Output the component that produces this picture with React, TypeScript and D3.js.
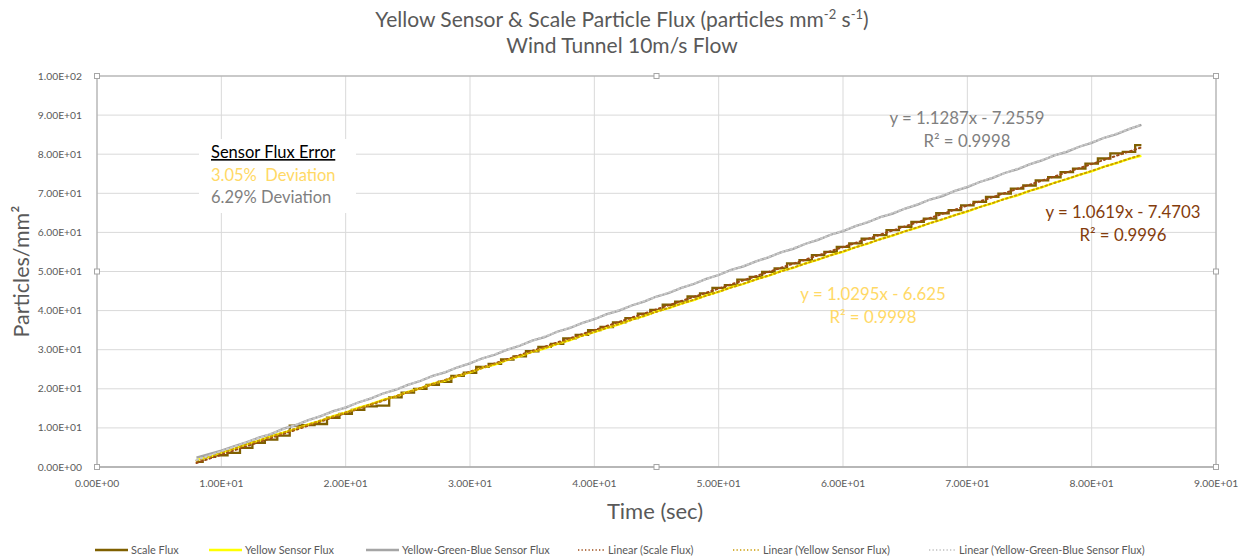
import React from "react"
import * as d3 from "d3"

// chart text
const titleLine2 = "Wind Tunnel 10m/s Flow"
const xTitle = "Time (sec)"
const yTitle = "Particles/mm²"

const xTicks = [0, 10, 20, 30, 40, 50, 60, 70, 80, 90]
const yTicks = [0, 10, 20, 30, 40, 50, 60, 70, 80, 90, 100]

// sample times (sec)
const time = [
  8, 9, 10, 11, 12, 13, 14, 15, 16, 17, 18, 19, 20, 21, 22, 23, 24, 25, 26, 27, 28, 29, 30,
  31, 32, 33, 34, 35, 36, 37, 38, 39, 40, 41, 42, 43, 44, 45, 46, 47, 48, 49, 50, 51, 52,
  53, 54, 55, 56, 57, 58, 59, 60, 61, 62, 63, 64, 65, 66, 67, 68, 69, 70, 71, 72, 73, 74,
  75, 76, 77, 78, 79, 80, 81, 82, 83, 84,
]

// particles / mm^2
const scaleFlux = [
  1.3, 2.6, 3.0, 3.6, 4.9, 6.2, 7.0, 8.0, 10.6, 10.7, 11.0, 12.6, 13.6, 14.6, 15.5, 15.7,
  17.8, 19.0, 20.0, 21.0, 21.8, 23.3, 24.1, 25.6, 26.4, 27.5, 28.3, 29.6, 30.7, 31.5, 32.9,
  33.8, 35.0, 35.8, 37.0, 38.1, 39.2, 40.2, 41.5, 42.3, 43.6, 44.4, 45.8, 46.5, 47.9, 48.6,
  49.9, 50.8, 52.1, 52.9, 54.2, 55.0, 56.3, 57.2, 58.4, 59.3, 60.6, 61.4, 62.7, 63.5, 64.9,
  65.7, 66.9, 67.8, 69.1, 69.9, 71.2, 72.0, 73.3, 74.1, 75.4, 76.3, 77.6, 78.9, 80.2, 80.6,
  82.3,
]
const yellowFlux = [
  1.8, 2.5, 3.7, 4.6, 5.8, 6.7, 7.9, 8.8, 9.7, 10.9, 11.8, 13.0, 13.9, 15.1, 16.0, 17.2,
  18.0, 19.2, 20.1, 21.3, 22.1, 23.3, 24.2, 25.4, 26.2, 27.4, 28.3, 29.5, 30.3, 31.5, 32.4,
  33.6, 34.5, 35.6, 36.5, 37.7, 38.6, 39.8, 40.6, 41.8, 42.7, 43.9, 44.8, 46.0, 46.8, 48.0,
  48.9, 50.1, 50.9, 52.1, 53.0, 54.2, 55.0, 56.2, 57.1, 58.3, 59.2, 60.3, 61.2, 62.4, 63.3,
  64.4, 65.3, 66.5, 67.4, 68.6, 69.4, 70.6, 71.5, 72.7, 73.6, 74.7, 75.6, 76.8, 77.7, 78.8,
  79.6,
]
const ygbFlux = [
  2.4, 3.3, 4.2, 5.3, 6.3, 7.5, 8.4, 9.8, 10.7, 12.0, 13.0, 14.3, 15.2, 16.5, 17.5, 18.8,
  19.7, 21.0, 22.0, 23.3, 24.2, 25.5, 26.5, 27.8, 28.7, 30.0, 31.0, 32.3, 33.2, 34.6, 35.5,
  36.8, 37.8, 39.1, 40.0, 41.3, 42.3, 43.6, 44.5, 45.8, 46.8, 48.1, 49.1, 50.4, 51.3, 52.6,
  53.6, 54.9, 55.8, 57.1, 58.1, 59.4, 60.3, 61.6, 62.6, 63.9, 64.8, 66.1, 67.1, 68.4, 69.3,
  70.6, 71.6, 72.9, 73.9, 75.2, 76.1, 77.4, 78.4, 79.7, 80.6, 81.9, 82.9, 84.2, 85.1, 86.4,
  87.5,
]

// linear fits (from the equation labels)
const trendSlopes = [1.0619, 1.0295, 1.1287]
const trendIntercepts = [-7.4703, -6.625, -7.2559]
const trendR2 = ["0.9996", "0.9998", "0.9998"]

const font = "Lato, 'Open Sans', sans-serif"
const textGray = "#595959"
const lineColors = ["#7f6000", "#ffff00", "#a5a5a5"]
const trendColors = ["#9c4a16", "#c99a00", "#c8c8c8"]
const eqColors = ["#843c0c", "#ffd966", "#7f7f7f"]

const W = 1244
const H = 560
const m = { left: 97, right: 1216, top: 76, bottom: 467 }

const sciLabel = (v: number) => {
  const [mant, exp] = v.toExponential(2).split("e")
  const e = parseInt(exp, 10)
  return mant + "E" + (e < 0 ? "-" : "+") + String(Math.abs(e)).padStart(2, "0")
}

export default function App() {
  const x = d3.scaleLinear().domain([0, 90]).range([m.left, m.right])
  const y = d3.scaleLinear().domain([0, 100]).range([m.bottom, m.top])

  // scale readings are discrete steps, the sensors read out smoother
  const curves = [d3.curveStep, d3.curveLinear, d3.curveLinear]
  const series = [scaleFlux, yellowFlux, ygbFlux]
  const t0 = time[0]
  const t1 = time[time.length - 1]

  // equation label spots
  const eqPos = [
    { cx: 1123, cy: 218 },
    { cx: 873, cy: 300 },
    { cx: 967, cy: 124 },
  ]

  const midX = (m.left + m.right) / 2
  const midY = (m.top + m.bottom) / 2
  const handles = [
    [m.left, m.top], [midX, m.top], [m.right, m.top],
    [m.left, midY], [m.right, midY],
    [m.left, m.bottom], [midX, m.bottom], [m.right, m.bottom],
  ]

  const legendItems = [
    { label: "Scale Flux", x: 95, color: lineColors[0], dotted: false },
    { label: "Yellow Sensor Flux", x: 209, color: lineColors[1], dotted: false },
    { label: "Yellow-Green-Blue Sensor Flux", x: 366, color: lineColors[2], dotted: false },
    { label: "Linear (Scale Flux)", x: 578, color: trendColors[0], dotted: true },
    { label: "Linear (Yellow Sensor Flux)", x: 733, color: trendColors[1], dotted: true },
    { label: "Linear (Yellow-Green-Blue Sensor Flux)", x: 929, color: "#bfbfbf", dotted: true },
  ]

  return (
    <svg
      width={W}
      height={H}
      style={{ position: "absolute", left: 0, top: 0, background: "#fff" }}
      fontFamily={font}
    >
      <rect width={W} height={H} fill="#fff" />

      {/* title */}
      <text x={622} y={27} textAnchor="middle" fontSize={21} fill={textGray}>
        Yellow Sensor &amp; Scale Particle Flux (particles mm
        <tspan fontSize={13} dy={-8}>-2</tspan>
        <tspan dy={8}> s</tspan>
        <tspan fontSize={13} dy={-8}>-1</tspan>
        <tspan dy={8}>)</tspan>
      </text>
      <text x={622} y={53} textAnchor="middle" fontSize={21} fill={textGray}>
        {titleLine2}
      </text>

      {/* grid */}
      {yTicks.map(t => (
        <line key={"gy" + t} x1={m.left} x2={m.right} y1={y(t)} y2={y(t)} stroke="#d9d9d9" />
      ))}
      {xTicks.map(t => (
        <line key={"gx" + t} x1={x(t)} x2={x(t)} y1={m.top} y2={m.bottom} stroke="#d9d9d9" />
      ))}

      {/* plot area outline */}
      <rect
        x={m.left}
        y={m.top}
        width={m.right - m.left}
        height={m.bottom - m.top}
        fill="none"
        stroke="#a6a6a6"
      />
      <line x1={m.left} x2={m.right} y1={m.bottom} y2={m.bottom} stroke="#a6a6a6" strokeWidth={1.2} />

      {/* tick labels */}
      {yTicks.map(t => (
        <text key={"ty" + t} x={82} y={y(t) + 3.5} textAnchor="end" fontSize={10.3} fill={textGray}>
          {sciLabel(t)}
        </text>
      ))}
      {xTicks.map(t => (
        <text key={"tx" + t} x={x(t)} y={487} textAnchor="middle" fontSize={10.3} fill={textGray}>
          {sciLabel(t)}
        </text>
      ))}

      {/* axis titles */}
      <text
        transform={`translate(29,${midY}) rotate(-90)`}
        textAnchor="middle"
        fontSize={21.5}
        fill={textGray}
      >
        {yTitle}
      </text>
      <text x={655} y={519} textAnchor="middle" fontSize={22} fill={textGray}>
        {xTitle}
      </text>

      {/* text box */}
      <rect x={199} y={139} width={157} height={74} fill="#fff" />
      <text x={211} y={158} fontSize={16.5} fill="#000" textDecoration="underline">
        Sensor Flux Error
      </text>
      <text x={211} y={181} fontSize={16.5} fill="#ffd966" xmlSpace="preserve">
        3.05%  Deviation
      </text>
      <text x={211} y={203} fontSize={16.5} fill="#7f7f7f">
        6.29% Deviation
      </text>

      {/* series */}
      {series.map((s, i) => (
        <path
          key={"s" + i}
          d={
            d3
              .line<number>()
              .x((_, j) => x(time[j]))
              .y(d => y(d))
              .curve(curves[i])(s) || ""
          }
          fill="none"
          stroke={lineColors[i]}
          strokeWidth={2.3}
        />
      ))}

      {/* trendlines */}
      {trendSlopes.map((k, i) => (
        <path
          key={"tr" + i}
          d={
            d3
              .line<number>()
              .x(d => x(d))
              .y(d => y(k * d + trendIntercepts[i]))([t0, t1]) || ""
          }
          fill="none"
          stroke={trendColors[i]}
          strokeWidth={2}
          strokeDasharray="1.6 3"
          strokeLinecap="round"
        />
      ))}

      {/* equation labels */}
      {trendSlopes.map((k, i) => (
        <g key={"eq" + i} fontSize={16.8} fill={eqColors[i]} textAnchor="middle">
          <text x={eqPos[i].cx} y={eqPos[i].cy}>
            {`y = ${k}x - ${Math.abs(trendIntercepts[i])}`}
          </text>
          <text x={eqPos[i].cx} y={eqPos[i].cy + 23}>
            {`R² = ${trendR2[i]}`}
          </text>
        </g>
      ))}

      {/* selection handles */}
      {handles.map(([hx, hy], i) => (
        <rect
          key={"h" + i}
          x={hx - 2.5}
          y={hy - 2.5}
          width={5}
          height={5}
          fill="#fff"
          stroke="#a6a6a6"
        />
      ))}

      {/* legend */}
      {legendItems.map((it, i) => (
        <g key={"lg" + i}>
          <line
            x1={it.x}
            x2={it.x + (it.dotted ? 26 : 33)}
            y1={550}
            y2={550}
            stroke={it.color}
            strokeWidth={it.dotted ? 1.6 : 2.5}
            strokeDasharray={it.dotted ? "1.3 2.2" : undefined}
          />
          <text x={it.x + (it.dotted ? 30 : 36)} y={553.5} fontSize={10.9} fill={textGray}>
            {it.label}
          </text>
        </g>
      ))}
    </svg>
  )
}
